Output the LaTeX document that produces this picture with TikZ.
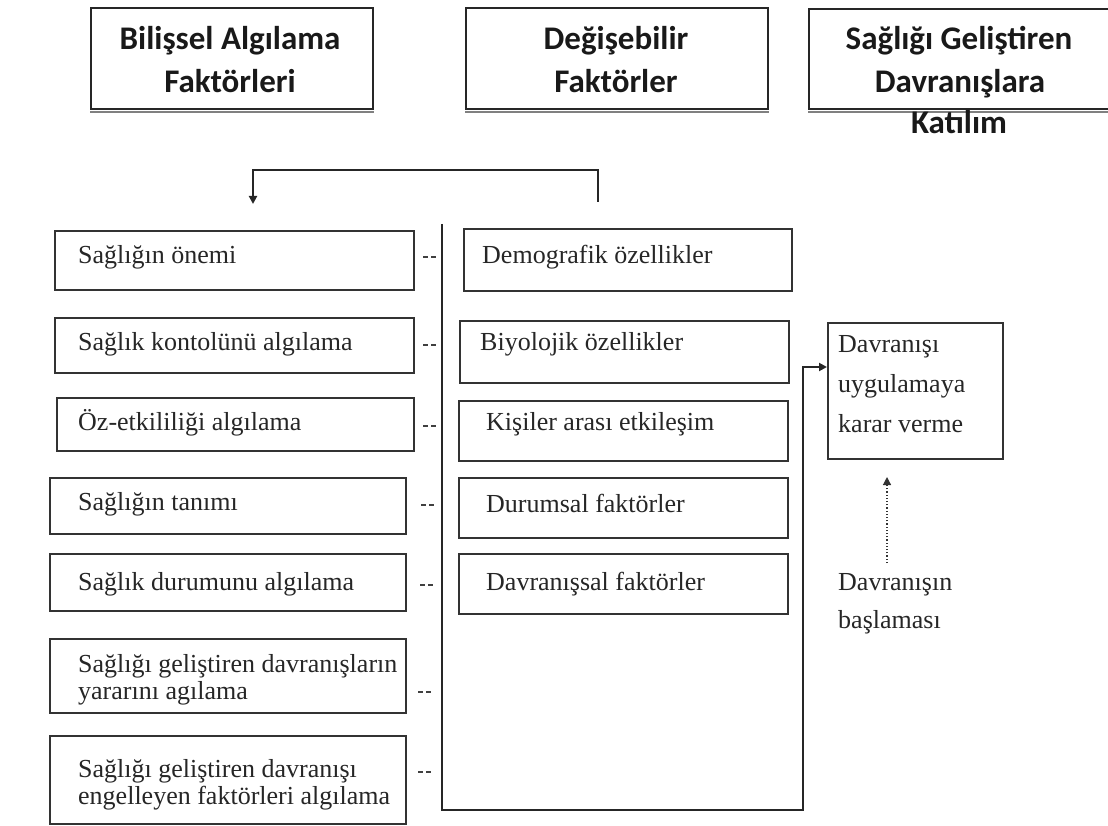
\documentclass[tikz,border=0pt]{standalone}
\usepackage{fontspec}
\setmainfont{Liberation Serif}
\newfontfamily\hdrfont{Carlito}
\usetikzlibrary{arrows.meta}
\begin{document}
\begin{tikzpicture}[x=1pt,y=-1pt,
  hbox/.style={draw=black!85, line width=1.6pt, inner sep=0, anchor=north west},
  hdr/.style={font=\hdrfont\bfseries\fontsize{33}{43}\selectfont, anchor=base, inner sep=0, text=black!90},
  box/.style={draw=black!80, line width=2pt, anchor=north west, inner sep=0},
  txt/.style={font=\fontsize{26}{28}\selectfont, anchor=base west, inner sep=0, text=black!85},
  lnk/.style={line width=2pt, draw=black!85},
  tick/.style={line width=1.5pt, draw=black!75, dash pattern=on 5pt off 3pt},
  tip/.style={-{Triangle[length=8pt,width=8pt]}}]
\useasboundingbox (0,0) rectangle (1108,826);
\clip (0,0) rectangle (1108,826);
% header boxes
\node[hbox, minimum width=282pt, minimum height=101pt] (h1) at (90,7) {};
\node[hbox, minimum width=302pt, minimum height=101pt] (h2) at (465,7) {};
\node[hbox, minimum width=320pt, minimum height=100pt] (h3) at (808,8) {};
\foreach \h in {h1,h2,h3}{\draw[black!50, line width=2pt] ([yshift=-2pt]\h.south west) -- ([yshift=-2pt]\h.south east);}
\node[hdr] (h1a) at (230,50) {Bilişsel Algılama};
\node[hdr] (h1b) at (230,93) {Faktörleri};
\node[hdr] (h2a) at (616,50) {Değişebilir};
\node[hdr] (h2b) at (616,93) {Faktörler};
\node[hdr] (h3a) at (959,50) {Sağlığı Geliştiren};
\node[hdr] (h3b) at (960,93) {Davranışlara};
\node[hdr] (h3c) at (959,134) {Katılım};
% left column
\node[box, minimum width=359pt, minimum height=59pt] (l1) at (54,230) {};
\node[box, minimum width=359pt, minimum height=55pt] (l2) at (54,317) {};
\node[box, minimum width=357pt, minimum height=53pt] (l3) at (56,397) {};
\node[box, minimum width=356pt, minimum height=56pt] (l4) at (49,477) {};
\node[box, minimum width=356pt, minimum height=57pt] (l5) at (49,553) {};
\node[box, minimum width=356pt, minimum height=74pt] (l6) at (49,638) {};
\node[box, minimum width=356pt, minimum height=88pt] (l7) at (49,735) {};
\node[txt] (t1) at (78,264) {Sağlığın önemi};
\node[txt] (t2) at (78,350) {Sağlık kontolünü algılama};
\node[txt] (t3) at (78,430) {Öz-etkililiği algılama};
\node[txt] (t4) at (78,510) {Sağlığın tanımı};
\node[txt] (t5) at (78,590) {Sağlık durumunu algılama};
\node[txt] (t6a) at (78,672) {Sağlığı geliştiren davranışların};
\node[txt] (t6b) at (78,699) {yararını agılama};
\node[txt] (t7a) at (78,777) {Sağlığı geliştiren davranışı};
\node[txt] (t7b) at (78,804) {engelleyen faktörleri algılama};
% ticks
\foreach \y/\a in {257/423,345/423,426/423,505/421,585/420,692/418,772/418}{\draw[tick] (\a,\y) -- ++(14,0);}
% middle column
\node[box, minimum width=328pt, minimum height=62pt] (m1) at (463,228) {};
\node[box, minimum width=329pt, minimum height=62pt] (m2) at (459,320) {};
\node[box, minimum width=329pt, minimum height=60pt] (m3) at (458,400) {};
\node[box, minimum width=329pt, minimum height=60pt] (m4) at (458,477) {};
\node[box, minimum width=329pt, minimum height=60pt] (m5) at (458,553) {};
\node[txt] (s1) at (482,264) {Demografik özellikler};
\node[txt] (s2) at (480,350) {Biyolojik özellikler};
\node[txt] (s3) at (486,430) {Kişiler arası etkileşim};
\node[txt] (s4) at (486,512) {Durumsal faktörler};
\node[txt] (s5) at (486,590) {Davranışsal faktörler};
% decision box
\node[box, minimum width=175pt, minimum height=136pt] (d) at (827,322) {};
\node[txt] (d1) at (838,352) {Davranışı};
\node[txt] (d2) at (838,392) {uygulamaya};
\node[txt] (d3) at (838,432) {karar verme};
\node[txt] (b1) at (838,590) {Davranışın};
\node[txt] (b2) at (838,628) {başlaması};
% connectors
\coordinate (bs) at (598,202);
\coordinate (be) at (253,204);
\draw[lnk, tip] (bs) -- (598,170) -| (be);
\coordinate (vs) at (442,224);
\draw[lnk, tip] (vs) -- (442,810) -- (803,810) -- (803,367) -- (d.west |- 0,367);
\coordinate (ds) at (887,563);
\draw[black!80, line width=1.2pt, dotted, tip] (ds) -- ([yshift=-17pt]d.south -| ds);
\end{tikzpicture}
\end{document}
